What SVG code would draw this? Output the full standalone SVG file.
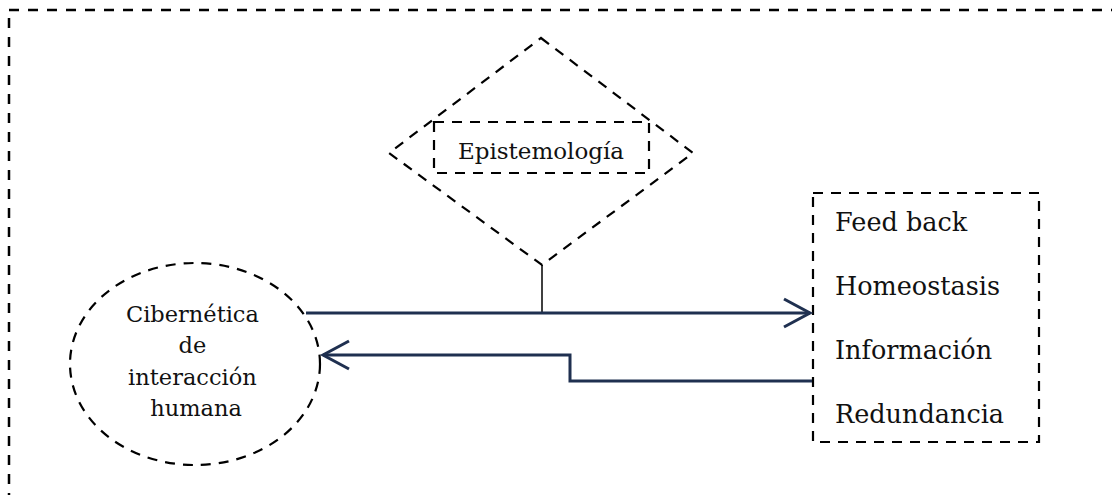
<svg xmlns="http://www.w3.org/2000/svg" width="1112" height="495" viewBox="0 0 1112 495">
<style>
.dash{fill:none;stroke:#000;stroke-width:2.2;stroke-dasharray:10 8}
.frame{fill:none;stroke:#000;stroke-width:2.5;stroke-dasharray:10 9}
.conn{fill:none;stroke:#1f3050;stroke-width:3}
.thin{fill:none;stroke:#000;stroke-width:1.5}
text{font-family:"DejaVu Serif","Liberation Serif",serif;fill:#111}
</style>
<rect width="1112" height="495" fill="#fff"/>
<g id="frame">
<path class="frame" d="M9,10 H1112 M9,18 V495"/>
</g>
<g id="epistemologia">
<polygon class="dash" points="541,38 693,153 542,265 389,153"/>
<rect class="dash" x="434" y="122" width="215" height="51"/>
<text x="541" y="159" font-size="23" text-anchor="middle">Epistemología</text>
</g>
<g id="cibernetica">
<ellipse class="dash" cx="195" cy="364" rx="125" ry="101"/>
<text font-size="22.5" text-anchor="middle">
<tspan x="196" y="322">Cibernética</tspan>
<tspan x="196" y="353">de</tspan>
<tspan x="196" y="385">interacción</tspan>
<tspan x="196" y="416">humana</tspan>
</text>
</g>
<g id="conceptos">
<rect class="dash" x="813" y="193" width="226" height="249"/>
<text font-size="25.5">
<tspan x="835" y="231">Feed back</tspan>
<tspan x="835" y="295">Homeostasis</tspan>
<tspan x="835" y="359">Información</tspan>
<tspan x="835" y="423">Redundancia</tspan>
</text>
</g>
<g id="connectors">
<path class="thin" d="M542,265 V313"/>
<path class="conn" d="M306,313 H810"/>
<path class="conn" d="M784,299 L810,313 L784,327"/>
<path class="conn" d="M812,381 H570 V355 H323"/>
<path class="conn" d="M349,341 L323,355 L349,369"/>
</g>
</svg>
